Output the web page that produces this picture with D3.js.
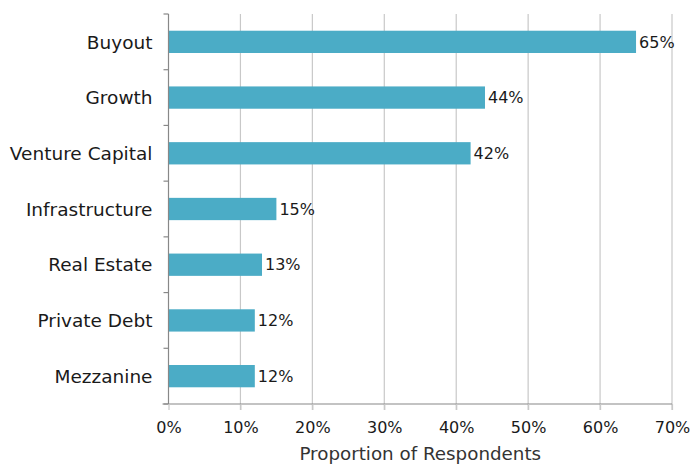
<!DOCTYPE html>
<html>
<head>
<meta charset="utf-8">
<script src="https://cdn.jsdelivr.net/npm/d3@7"></script>
<style>
  body { margin: 0; background: #fff; }
  svg { display: block; font-family: "DejaVu Sans", sans-serif; }
</style>
</head>
<body>
<div id="chart"></div>
<script>

const categories = ["Buyout", "Growth", "Venture Capital", "Infrastructure", "Real Estate", "Private Debt", "Mezzanine"];
const values     = [65, 44, 42, 15, 13, 12, 12];
const xTicks     = [0, 10, 20, 30, 40, 50, 60, 70];

const width  = 690,
      height = 465,
      margin = { top: 14, right: 18, bottom: 61, left: 168.5 },
      font   = "'DejaVu Sans', sans-serif";

const svg = d3.select("#chart").append("svg")
  .attr("width", width)
  .attr("height", height);

const x = d3.scaleLinear()
  .domain([0, 70])
  .range([margin.left, width - margin.right]);

const y = d3.scaleBand()
  .domain(categories)
  .range([margin.top, height - margin.bottom])
  .paddingInner(0.6)
  .paddingOuter(0.3);

const plotBottom = height - margin.bottom;

// vertical gridlines
svg.append("g")
  .selectAll("line")
  .data(xTicks.slice(1))
  .join("line")
    .attr("x1", d => x(d)).attr("x2", d => x(d))
    .attr("y1", margin.top).attr("y2", plotBottom + 6)
    .attr("stroke", "#c8c8c8")
    .attr("stroke-width", 1.2);

// bars
svg.append("g")
  .selectAll("rect")
  .data(categories)
  .join("rect")
    .attr("x", x(0))
    .attr("y", d => y(d))
    .attr("width", (d, i) => x(values[i]) - x(0))
    .attr("height", y.bandwidth())
    .attr("fill", "#4bacc6");

// value labels
svg.append("g")
  .selectAll("text")
  .data(categories)
  .join("text")
    .attr("x", (d, i) => x(values[i]) + 3)
    .attr("y", d => y(d) + y.bandwidth() / 2)
    .attr("dy", "0.36em")
    .attr("font-size", 16)
    .attr("fill", "#1a1a1a")
    .text((d, i) => values[i] + "%");

// y axis line and boundary ticks
const yAxis = svg.append("g");
yAxis.append("line")
  .attr("x1", x(0)).attr("x2", x(0))
  .attr("y1", margin.top).attr("y2", plotBottom)
  .attr("stroke", "#888").attr("stroke-width", 1.2);
yAxis.selectAll("line.tk")
  .data(d3.range(categories.length + 1))
  .join("line")
    .attr("class", "tk")
    .attr("x1", x(0) - 5).attr("x2", x(0))
    .attr("y1", i => margin.top + i * (plotBottom - margin.top) / categories.length)
    .attr("y2", i => margin.top + i * (plotBottom - margin.top) / categories.length)
    .attr("stroke", "#888").attr("stroke-width", 1.2);

yAxis.selectAll("text")
  .data(categories)
  .join("text")
    .attr("x", x(0) - 16)
    .attr("y", d => y(d) + y.bandwidth() / 2)
    .attr("dy", "0.36em")
    .attr("text-anchor", "end")
    .attr("font-size", 18.5)
    .attr("fill", "#1a1a1a")
    .text(d => d);

// x axis
svg.append("g")
  .attr("transform", `translate(0,${plotBottom})`)
  .call(d3.axisBottom(x)
    .tickValues(xTicks)
    .tickSize(6)
    .tickPadding(12)
    .tickFormat(d => d + "%"))
  .call(g => g.select(".domain")
    .attr("d", `M${x(0) - 6},0H${x(70)}`)
    .attr("stroke", "#888").attr("stroke-width", 1.2))
  .call(g => g.selectAll(".tick line").attr("stroke", "#c8c8c8").attr("stroke-width", 1.2))
  .call(g => g.selectAll(".tick text")
    .attr("font-size", 16)
    .attr("font-family", font)
    .attr("fill", "#1a1a1a"));

svg.append("text")
  .attr("x", x(35))
  .attr("y", height - 5)
  .attr("text-anchor", "middle")
  .attr("font-size", 18.3)
  .attr("fill", "#333")
  .text("Proportion of Respondents");

</script>
</body>
</html>
